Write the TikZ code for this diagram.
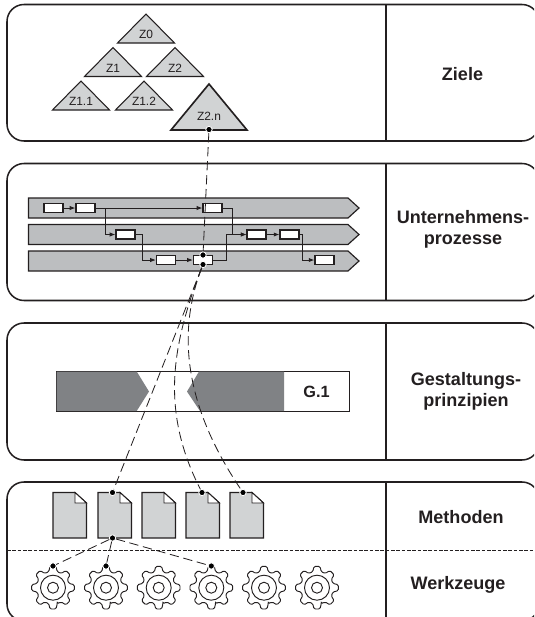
\documentclass[tikz,border=0pt]{standalone}
\usepackage{fontspec}
\setmainfont{Liberation Sans}
\usetikzlibrary{
    calc,
    positioning,
    arrows.meta
}

\begin{document}
\begin{tikzpicture}[
    x=0.3mm, y=-0.3mm,
    font=\fontsize{10.2}{12}\selectfont,
    panel/.style={
    	draw=my-black,
    	line width=1.3pt,
    	rounded corners=5.1mm
    }, divider/.style={
    	draw=my-black,
    	line width=1.3pt
    }, title/.style={
    	align=center,
    	text=my-black,
    	inner sep=0pt,
    	font=\fontsize{15.4}{17.7}\selectfont\bfseries
    }, zielmark/.style={
    	fill=my-lightgray,
    	draw=my-black,
    	line width=.9pt
    }, procbar/.style={
    	fill=my-gray,
    	draw=my-black,
    	line width=1pt
    }, proc/.style={
    	draw=my-black,
    	fill=white,
    	line width=1pt,
    	minimum width=5.7mm,
    	minimum height=2.7mm,
    	inner sep=0pt
    }, pil/.style={
    	-{Latex[length=1.7mm,width=1.3mm]},
    	draw=my-black,
    	line width=.8pt
    }, dashlink/.style={
    	draw=my-black,
    	line width=.7pt,
    	dash pattern=on 2.8mm off 1.4mm
    }, dotmark/.style={
    	circle,
    	fill=black,
    	draw=white,
    	line width=.7pt,
    	minimum size=1.9mm,
    	inner sep=0pt
    }, tri/.pic={
    	\path[zielmark] (-28.5,0) -- (0,-29) -- (28.5,0) -- cycle;
    }, bigtri/.pic={
    	\path[zielmark, line width=1.4pt] (-38,0) -- (0,-46) -- (38,0) -- cycle;
    }, docmark/.pic={
    	\path[fill=my-lightgray, draw=my-black, line width=1pt] (0,0) -- (22,0) -- (33.5,10.5) -- (33.5,45.5) -- (0,45.5) -- cycle;
    	\path[fill=white, draw=my-black, line width=.8pt] (22,0) -- (22,10.5) -- (33.5,10.5) -- cycle;
    }, gear/.pic={
    	\draw[fill=white, draw=my-black, line width=.8pt, rounded corners=.4mm] (75:16.5)
    	    \foreach \a in {90,135,...,405} {-- (\a-15:16.5) -- (\a-8:21.5) -- (\a+8:21.5) -- (\a+15:16.5)} -- cycle;
    	\draw[draw=my-black, line width=.8pt] (0,0) circle (12.5);
    	\draw[draw=my-black, line width=.8pt] (0,0) circle (5.5);
    }]
    \definecolor{my-black}{RGB}{35, 31, 32}
    \definecolor{my-gray}{RGB}{188, 190, 192}
    \definecolor{my-lightgray}{RGB}{209, 211, 212}
    \definecolor{my-dark}{RGB}{128, 130, 133}

    \clip (0,0) rectangle (534,617);

    \draw[panel] (7,4.5) rectangle (539,141);
    \draw[panel] (7,163.5) rectangle (539,300.5);
    \draw[panel] (7,323) rectangle (539,460);
    \draw[panel] (7,482) rectangle (539,621);
    \draw[divider] (386,4.5) -- (386,141);
    \draw[divider] (386,163.5) -- (386,300.5);
    \draw[divider] (386,323) -- (386,460);
    \draw[divider] (386,482) -- (386,621);
    \draw[draw=my-black, line width=.7pt, dash pattern=on 1.1mm off .5mm] (7,550) -- (534,550);

    \node[title] (ziele) at (462.5,74) {Ziele};
    \node[title] (prozesse) at (463,229) {Unternehmens-\\prozesse};
    \node[title] (prinzipien) at (466,391) {Gestaltungs-\\prinzipien};
    \node[title] (methoden) at (461,517) {Methoden};
    \node[title] (werkzeuge) at (458,585) {Werkzeuge};

    % Zielbaum
    \pic at (146,43) {tri};
    \pic at (113,76.5) {tri};
    \pic at (175,76.5) {tri};
    \pic at (81,110) {tri};
    \pic at (144,110) {tri};
    \pic at (209,130) {bigtri};
    \node[text=my-black] (z0) at (146,34) {Z0};
    \node[text=my-black] (z1) at (113,68) {Z1};
    \node[text=my-black] (z2) at (175,68) {Z2};
    \node[text=my-black] (z11) at (81,101) {Z1.1};
    \node[text=my-black] (z12) at (144,101) {Z1.2};
    \node[text=my-black] (z2n) at (209,116.5) {Z2.n};

    % Prozesse
    \foreach \y in {198,224.5,251}
        \path[procbar] (28.5,\y) -- (348,\y) -- (359,\y+10) -- (348,\y+20) -- (28.5,\y+20) -- cycle;

    \node[proc] (proc1) at (53.5,208) {};
    \node[proc] (proc2) at (85.5,208) {};
    \node[proc] (proc3) at (212.5,208) {};
    \node[proc] (proc4) at (125.5,234.5) {};
    \node[proc] (proc5) at (256.5,234.5) {};
    \node[proc] (proc6) at (289.5,234.5) {};
    \node[proc] (proc7) at (166,260) {};
    \node[proc] (proc8) at (203,260) {};
    \node[proc] (proc9) at (324.5,260) {};

    \draw[pil] (proc1) -- (proc2);
    \draw[pil] (proc2) -- (proc3);
    \draw[pil] (proc2.east) -- ++(10,0) |- (proc4.west);
    \draw[pil] (proc4.east) -- ++(6.5,0) |- (proc7.west);
    \draw[pil] (proc7) -- (proc8);
    \draw[pil] (proc8.east) -- ++(13.5,0) |- (proc5.west);
    \draw[pil] (proc3.east) -- ++(9.5,0) |- (proc5.west);
    \draw[pil] (proc5) -- (proc6);
    \draw[pil] (proc6.east) -- ++(3,0) |- (proc9.west);

    % Gestaltungsprinzip
    \draw[fill=white, draw=my-black, line width=.7pt] (56.5,371.5) rectangle (349,411);
    \fill[my-dark] (56.5,371.5) -- (136.7,371.5) -- (149,391.5) -- (136.7,411) -- (56.5,411) -- cycle;
    \fill[my-dark] (199,371.5) -- (284,371.5) -- (284,411) -- (200,411) -- (187,391.5) -- cycle;
    \node[text=my-black, font=\fontsize{13.9}{16}\selectfont\bfseries] (g1) at (316.5,391.5) {G.1};

    % Methoden und Werkzeuge
    \pic at (53,492.5) {docmark};
    \pic at (98,492.5) {docmark};
    \pic at (142,492.5) {docmark};
    \pic at (186,492.5) {docmark};
    \pic at (230,492.5) {docmark};
    \foreach \x in {53,106,158.7,211.3,264,317}
        \pic at (\x,587.7) {gear};

    \node[dotmark] (d-ziel) at (209,129.5) {};
    \node[dotmark] (d-proc-top) at (203,255) {};
    \node[dotmark] (d-proc-bot) at (203,264.5) {};
    \node[dotmark] (d-doc2) at (112.5,492.5) {};
    \node[dotmark] (d-doc4) at (202,492.5) {};
    \node[dotmark] (d-doc5) at (243,492.5) {};
    \node[dotmark] (d-doc2b) at (112.5,538) {};
    \node[dotmark] (d-gear1) at (53,566) {};
    \node[dotmark] (d-gear2) at (106,566) {};
    \node[dotmark] (d-gear4) at (211.3,566) {};

    \draw[dashlink] (d-ziel) -- (d-proc-top);
    \draw[dashlink] (d-proc-bot) -- (d-doc2);
    \draw[dashlink] (d-proc-bot) .. controls (172,345) and (160,410) .. (d-doc4);
    \draw[dashlink] (d-proc-bot) .. controls (172,345) and (194,420) .. (d-doc5);
    \draw[dashlink] (d-doc2b) -- (d-gear1);
    \draw[dashlink] (d-doc2b) -- (d-gear2);
    \draw[dashlink] (d-doc2b) -- (d-gear4);
\end{tikzpicture}
\end{document}
